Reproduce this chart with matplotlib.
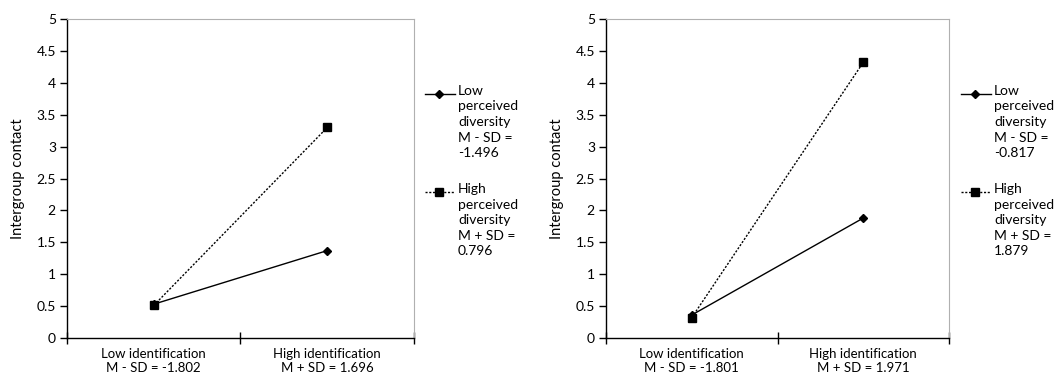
import matplotlib
matplotlib.use("Agg")
import matplotlib.pyplot as plt
from matplotlib.lines import Line2D

plt.rcParams['font.family'] = ['Lato', 'DejaVu Sans']

categories_left = ["Low identification\nM - SD = -1.802", "High identification\nM + SD = 1.696"]
categories_right = ["Low identification\nM - SD = -1.801", "High identification\nM + SD = 1.971"]
left_low_div = [0.53, 1.37]
left_high_div = [0.51, 3.30]
right_low_div = [0.36, 1.88]
right_high_div = [0.32, 4.32]
legend_left = ["Low\nperceived\ndiversity\nM - SD =\n-1.496", "High\nperceived\ndiversity\nM + SD =\n0.796"]
legend_right = ["Low\nperceived\ndiversity\nM - SD =\n-0.817", "High\nperceived\ndiversity\nM + SD =\n1.879"]
yticks = [0, 0.5, 1, 1.5, 2, 2.5, 3, 3.5, 4, 4.5, 5]
ylabel = "Intergroup contact"

W, H = 1060, 380
fig = plt.figure(figsize=(W/100, H/100), dpi=100)
FS = 10

def panel(rect, cats, low, high, legend_labels, leg_x):
    ax = fig.add_axes(rect)
    xs = [0.5, 1.5]
    ax.plot(xs, low, color='black', lw=1.0, marker='D', markersize=4, zorder=3)
    ax.plot(xs, high, color='black', lw=1.0, ls=(0, (1.5, 1.2)), marker='s', markersize=5.5, zorder=3)
    ax.set_xlim(0, 2)
    ax.set_ylim(0, 5)
    ax.set_yticks(yticks)
    ax.set_yticklabels([f"{t:g}" for t in yticks])
    ax.set_xticks([0, 1, 2])
    ax.set_xticklabels([])
    ax.set_xticks(xs, minor=True)
    ax.set_xticklabels(cats, minor=True, fontsize=9.5, linespacing=1.2)
    ax.tick_params(axis='x', which='minor', length=0, pad=7)
    ax.tick_params(axis='x', which='major', direction='inout', length=8, width=1)
    ax.tick_params(axis='y', direction='out', length=5, width=1, labelsize=FS, pad=3)
    for s in ['top', 'right']:
        ax.spines[s].set_color('#b0b0b0')
        ax.spines[s].set_linewidth(0.8)
    for s in ['left', 'bottom']:
        ax.spines[s].set_color('black')
        ax.spines[s].set_linewidth(1.0)
    ax.set_ylabel(ylabel, fontsize=FS + 0.5, labelpad=8)
    # legend drawn manually in figure coordinates
    tops = [94, 192]
    styles = [dict(ls='-', marker='D', ms=4), dict(ls=(0, (1.5, 1.2)), marker='s', ms=5.5)]
    for lab, yt, st in zip(legend_labels, tops, styles):
        yf = 1 - yt / H
        fig.add_artist(Line2D([leg_x / W, (leg_x + 30) / W], [yf, yf], color='black', lw=1.0,
                              ls=st['ls'], transform=fig.transFigure))
        fig.add_artist(Line2D([(leg_x + 14) / W], [yf], color='black', marker=st['marker'],
                              markersize=st['ms'], ls='none', transform=fig.transFigure))
        fig.text((leg_x + 33) / W, yf + 9 / H, lab, ha='left', va='top', fontsize=FS,
                 linespacing=1.35)
    return ax

panel([67/W, 1 - 338/H, (414-67)/W, (338-19)/H], categories_left, left_low_div, left_high_div, legend_left, 425)
panel([606/W, 1 - 338/H, (949-606)/W, (338-19)/H], categories_right, right_low_div, right_high_div, legend_right, 961)

fig.savefig("out.png", dpi=100)
